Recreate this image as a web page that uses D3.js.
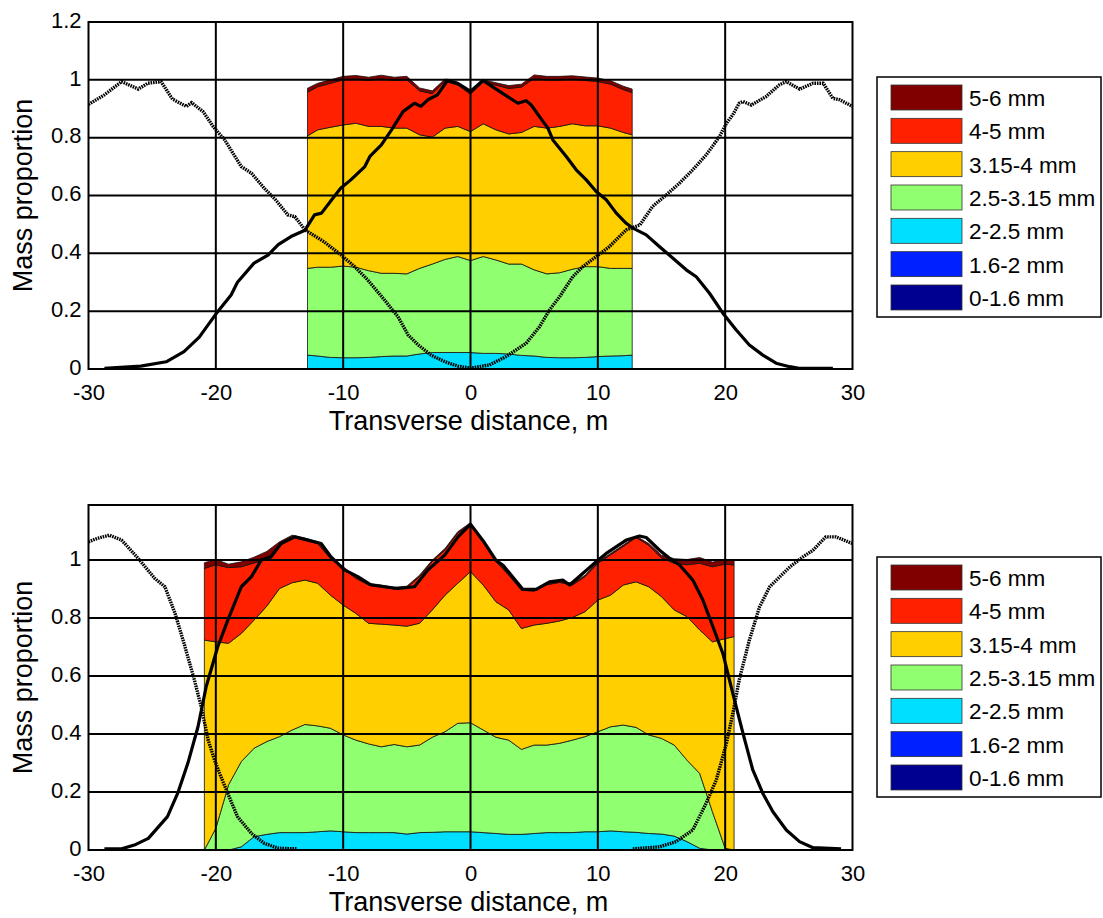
<!DOCTYPE html>
<html>

<head>
    <meta charset="utf-8">
    <title>Mass proportion by size class</title>
    <script src="https://d3js.org/d3.v7.min.js"></script>
    <style>
        body { margin: 0; background: #fff; }
        svg text { font-family: "Liberation Sans", Arial, sans-serif; fill: #000; }
    </style>
</head>

<body>
    <div id="chart"></div>
    <script>
        // size classes, bottom of the stack first
        var classes = ["0-1.6 mm", "1.6-2 mm", "2-2.5 mm", "2.5-3.15 mm", "3.15-4 mm", "4-5 mm", "5-6 mm"];
        var classColors = ["#000090", "#0020ff", "#00dfff", "#90ff70", "#ffcf00", "#ff2000", "#800000"];

        var xTicks = [-30, -20, -10, 0, 10, 20, 30];
        var yTicksTop = [0, 0.2, 0.4, 0.6, 0.8, 1, 1.2];
        var yTicksBottom = [0, 0.2, 0.4, 0.6, 0.8, 1];

        // ---- top panel ----
        var topX = [-12.8, -12, -11, -10, -9, -8, -7, -6, -5, -4, -3, -2, -1, 0, 1, 2, 3, 4, 5, 6, 7, 8, 9, 10, 11, 12, 12.7];
        var top_0_16 = [0, 0, 0, 0, 0, 0, 0, 0, 0, 0, 0, 0, 0, 0, 0, 0, 0, 0, 0, 0, 0, 0, 0, 0, 0, 0, 0];
        var top_16_2 = [0, 0, 0, 0, 0, 0, 0, 0, 0, 0, 0, 0, 0, 0, 0, 0, 0, 0, 0, 0, 0, 0, 0, 0, 0, 0, 0];
        var top_2_25 = [0.048, 0.045, 0.04, 0.039, 0.039, 0.04, 0.043, 0.045, 0.045, 0.052, 0.057, 0.057, 0.057, 0.057, 0.054, 0.054, 0.052, 0.047, 0.045, 0.04, 0.039, 0.039, 0.04, 0.043, 0.045, 0.046, 0.048];
        var top_25_315 = [0.300, 0.307, 0.312, 0.317, 0.313, 0.300, 0.288, 0.286, 0.284, 0.296, 0.306, 0.322, 0.332, 0.318, 0.335, 0.323, 0.311, 0.316, 0.298, 0.289, 0.294, 0.306, 0.314, 0.311, 0.303, 0.302, 0.300];
        var top_315_4 = [0.458, 0.475, 0.484, 0.488, 0.498, 0.499, 0.508, 0.502, 0.504, 0.462, 0.439, 0.454, 0.45, 0.446, 0.459, 0.45, 0.45, 0.455, 0.496, 0.504, 0.506, 0.503, 0.487, 0.487, 0.485, 0.47, 0.462];
        var top_4_5 = [0.151, 0.149, 0.152, 0.156, 0.153, 0.159, 0.165, 0.165, 0.167, 0.152, 0.15, 0.162, 0.143, 0.129, 0.144, 0.155, 0.157, 0.157, 0.166, 0.167, 0.161, 0.154, 0.157, 0.153, 0.152, 0.148, 0.146];
        var top_5_6 = [0.014, 0.012, 0.012, 0.012, 0.012, 0.011, 0.012, 0.011, 0.012, 0.01, 0.01, 0.008, 0.008, 0.01, 0.008, 0.008, 0.01, 0.01, 0.012, 0.012, 0.012, 0.012, 0.012, 0.012, 0.012, 0.012, 0.012];

        var topSolidX = [-28.75, -25.9, -23.9, -22.5, -21.3, -20.0, -18.8, -18.3, -17.0, -15.9, -15.1, -14.1, -13.0, -12.25, -11.7, -10.9, -10.2, -9.4, -8.3, -7.9, -7.0, -6.2, -5.3, -4.4, -3.9, -3.35, -2.6, -1.8, -1.0, 0, 0.97, 2.28, 3.72, 4.37, 4.77, 5.42, 6.08, 6.47, 7.52, 8.3, 9.09, 9.87, 10.66, 11.45, 12.23, 12.75, 13.8, 14.85, 15.9, 16.94, 17.73, 18.77, 19.82, 20.87, 21.9, 22.96, 24.0, 25.06, 25.8, 28.46];
        var topSolidY = [0.002, 0.01, 0.025, 0.06, 0.11, 0.19, 0.256, 0.30, 0.366, 0.394, 0.43, 0.458, 0.48, 0.533, 0.539, 0.585, 0.625, 0.654, 0.70, 0.735, 0.775, 0.827, 0.89, 0.919, 0.908, 0.931, 0.948, 0.998, 0.988, 0.96, 0.998, 0.96, 0.919, 0.928, 0.913, 0.873, 0.833, 0.792, 0.735, 0.689, 0.654, 0.614, 0.585, 0.539, 0.504, 0.487, 0.464, 0.423, 0.383, 0.343, 0.319, 0.262, 0.193, 0.135, 0.083, 0.048, 0.02, 0.008, 0.002, 0.002];
        var topDotX = [-30, -28.75, -27.4, -26.1, -25.35, -24.3, -23.4, -22.3, -21.9, -21.0, -20.2, -19.3, -18.0, -17.2, -16.2, -15.3, -14.35, -13.8, -13.0, -11.5, -10.16, -9.1, -8.07, -6.76, -5.7, -4.9, -4.1, -3.1, -2.0, -1.0, 0, 1.49, 2.8, 4.37, 5.42, 6.2, 7.0, 8.04, 8.82, 9.87, 10.9, 12.23, 13.3, 14.3, 15.37, 16.4, 17.46, 18.5, 19.56, 20.1, 20.6, 21.1, 21.4, 22.05, 23.2, 24.27, 24.8, 25.85, 26.9, 27.7, 28.46, 29.0, 30];
        var topDotY = [0.915, 0.948, 0.994, 0.968, 0.988, 0.994, 0.933, 0.908, 0.921, 0.89, 0.838, 0.792, 0.70, 0.677, 0.625, 0.585, 0.533, 0.527, 0.481, 0.44, 0.394, 0.354, 0.308, 0.239, 0.181, 0.118, 0.083, 0.048, 0.025, 0.01, 0.003, 0.014, 0.043, 0.089, 0.146, 0.204, 0.25, 0.32, 0.354, 0.389, 0.423, 0.481, 0.498, 0.562, 0.602, 0.642, 0.689, 0.74, 0.804, 0.85, 0.879, 0.919, 0.925, 0.913, 0.942, 0.983, 0.994, 0.968, 0.988, 0.988, 0.936, 0.931, 0.908];

        // ---- bottom panel ----
        var botX = [-20.9, -20, -19, -18, -17, -16, -15, -14, -13, -12, -11, -10, -9, -8, -7, -6, -5, -4, -3, -2, -1, 0, 1, 2, 3, 4, 5, 6, 7, 8, 9, 10, 11, 12, 13, 14, 15, 16, 17, 18, 19, 20, 20.7];
        var bot_0_16 = [0, 0, 0, 0, 0, 0, 0, 0, 0, 0, 0, 0, 0, 0, 0, 0, 0, 0, 0, 0, 0, 0, 0, 0, 0, 0, 0, 0, 0, 0, 0, 0, 0, 0, 0, 0, 0, 0, 0, 0, 0, 0, 0];
        var bot_16_2 = [0, 0, 0, 0, 0, 0, 0, 0, 0, 0, 0, 0, 0, 0, 0, 0, 0, 0, 0, 0, 0, 0, 0, 0, 0, 0, 0, 0, 0, 0, 0, 0, 0, 0, 0, 0, 0, 0, 0, 0, 0, 0, 0];
        var bot_2_25 = [0, 0, 0, 0.011, 0.046, 0.054, 0.06, 0.06, 0.06, 0.063, 0.066, 0.063, 0.06, 0.06, 0.06, 0.06, 0.055, 0.06, 0.061, 0.063, 0.063, 0.063, 0.06, 0.057, 0.054, 0.054, 0.057, 0.06, 0.06, 0.06, 0.063, 0.063, 0.066, 0.063, 0.061, 0.057, 0.055, 0.048, 0.029, 0.006, 0, 0, 0];
        var bot_25_315 = [0, 0.075, 0.225, 0.294, 0.305, 0.32, 0.331, 0.354, 0.373, 0.365, 0.354, 0.334, 0.319, 0.306, 0.296, 0.304, 0.301, 0.302, 0.328, 0.345, 0.374, 0.376, 0.354, 0.332, 0.325, 0.293, 0.305, 0.302, 0.308, 0.319, 0.328, 0.345, 0.359, 0.368, 0.362, 0.34, 0.33, 0.314, 0.281, 0.258, 0.132, 0.006, 0];
        var bot_315_4 = [0.724, 0.643, 0.488, 0.442, 0.442, 0.467, 0.511, 0.508, 0.498, 0.492, 0.459, 0.448, 0.437, 0.416, 0.423, 0.412, 0.416, 0.42, 0.439, 0.471, 0.483, 0.521, 0.5, 0.467, 0.449, 0.417, 0.414, 0.42, 0.422, 0.423, 0.431, 0.454, 0.454, 0.483, 0.502, 0.511, 0.489, 0.466, 0.495, 0.495, 0.586, 0.723, 0.736];
        var bot_4_5 = [0.247, 0.266, 0.261, 0.23, 0.197, 0.161, 0.153, 0.158, 0.139, 0.137, 0.126, 0.126, 0.121, 0.132, 0.129, 0.124, 0.132, 0.161, 0.167, 0.156, 0.173, 0.164, 0.147, 0.139, 0.12, 0.132, 0.117, 0.133, 0.133, 0.112, 0.121, 0.127, 0.139, 0.133, 0.153, 0.143, 0.133, 0.161, 0.179, 0.23, 0.259, 0.257, 0.247];
        var bot_5_6 = [0.02, 0.018, 0.012, 0.017, 0.02, 0.028, 0.008, 0.006, 0.006, 0.006, 0.006, 0.006, 0.006, 0.006, 0.006, 0.006, 0.006, 0.005, 0.005, 0.005, 0.005, 0.005, 0.005, 0.005, 0.006, 0.006, 0.006, 0.006, 0.006, 0.006, 0.005, 0.005, 0.005, 0.005, 0.005, 0.006, 0.01, 0.016, 0.018, 0.02, 0.016, 0.016, 0.017];

        var botSolidX = [-28.75, -27.4, -26.4, -25.3, -23.8, -23.0, -22.2, -21.4, -20.76, -19.85, -19.06, -18.0, -17.2, -16.44, -15.66, -14.87, -13.8, -12.78, -11.73, -10.95, -9.9, -8.85, -7.8, -6.76, -5.7, -4.4, -3.35, -2.03, -0.98, 0, 1.0, 2.02, 2.54, 4.11, 5.16, 6.2, 7.25, 7.78, 9.87, 10.66, 12.23, 13.28, 13.8, 14.85, 15.63, 16.42, 17.46, 18.25, 19.04, 19.82, 20.6, 21.4, 22.17, 22.96, 23.75, 24.8, 25.84, 26.9, 29.1];
        var botSolidY = [0.004, 0.004, 0.017, 0.04, 0.115, 0.195, 0.299, 0.425, 0.563, 0.701, 0.793, 0.908, 0.943, 1.0, 1.011, 1.057, 1.08, 1.069, 1.057, 1.011, 0.966, 0.943, 0.914, 0.908, 0.902, 0.908, 0.966, 1.017, 1.08, 1.124, 1.066, 0.998, 0.983, 0.899, 0.899, 0.925, 0.931, 0.914, 0.994, 1.023, 1.069, 1.083, 1.078, 1.034, 1.006, 0.983, 0.931, 0.862, 0.77, 0.678, 0.54, 0.402, 0.276, 0.195, 0.132, 0.069, 0.029, 0.008, 0.004];
        // null marks the gap where the dotted curve is absent
        var botDotX = [-30, -29.3, -28.36, -27.4, -26.1, -24.8, -24.0, -23.2, -22.5, -21.68, -21.15, -20.6, -20.1, -19.6, -19.06, -18.3, -17.2, -16.2, -15.1, -13.6, 0, 12.75, 14.85, 16.15, 17.46, 18.5, 19.3, 20.1, 20.6, 21.1, 21.9, 22.7, 23.5, 24.3, 25.1, 26.1, 26.9, 27.9, 28.7, 30];
        var botDotY = [1.063, 1.075, 1.086, 1.069, 1.006, 0.937, 0.908, 0.816, 0.713, 0.586, 0.494, 0.379, 0.31, 0.253, 0.195, 0.115, 0.057, 0.023, 0.006, 0.004, null, 0.004, 0.011, 0.029, 0.069, 0.161, 0.241, 0.368, 0.471, 0.586, 0.724, 0.839, 0.908, 0.943, 0.977, 1.011, 1.034, 1.08, 1.08, 1.057];

        // set the dimensions of the figure
        var W = 1103, H = 918;
        var left = 88.5, right = 852.5;

        var svg = d3.select("#chart")
            .append("svg")
            .attr("width", W)
            .attr("height", H);

        var x = d3.scaleLinear()
            .domain([-30, 30])
            .range([left, right]);

        function drawPanel(p) {
            var y = d3.scaleLinear()
                .domain(p.yDomain)
                .range([p.bottom, p.top]);

            var g = svg.append("g");

            svg.append("clipPath").attr("id", "clip" + p.id)
                .append("rect")
                .attr("x", left).attr("y", p.top)
                .attr("width", right - left).attr("height", p.bottom - p.top);

            // stacked areas
            var rows = p.xs.map(function (xv, i) {
                var r = { x: xv };
                p.layers.forEach(function (l, j) { r[classes[j]] = l[i]; });
                return r;
            });
            var series = d3.stack().keys(classes)(rows);
            var area = d3.area()
                .x(function (d) { return x(d.data.x); })
                .y0(function (d) { return y(d[0]); })
                .y1(function (d) { return y(d[1]); });
            g.append("g")
                .selectAll("path")
                .data(series)
                .enter()
                .append("path")
                .attr("d", area)
                .attr("fill", function (d, i) { return classColors[i]; })
                .attr("stroke", "#111")
                .attr("stroke-width", 0.8)
                .attr("stroke-linejoin", "round");

            // grid
            var grid = g.append("g").attr("stroke", "#000").attr("stroke-width", 2);
            xTicks.slice(1, -1).forEach(function (t) {
                grid.append("line").attr("x1", x(t)).attr("x2", x(t)).attr("y1", p.top).attr("y2", p.bottom);
            });
            p.yTicks.slice(1).forEach(function (t) {
                if (y(t) <= p.top + 1) return;
                grid.append("line").attr("x1", left).attr("x2", right).attr("y1", y(t)).attr("y2", y(t));
            });

            // curves
            var line = d3.line()
                .defined(function (d) { return d[1] !== null; })
                .x(function (d) { return x(d[0]); })
                .y(function (d) { return y(d[1]); });
            var curves = g.append("g").attr("clip-path", "url(#clip" + p.id + ")");
            curves.append("path")
                .datum(d3.zip(p.dotX, p.dotY))
                .attr("d", line)
                .attr("fill", "none")
                .attr("stroke", "#000")
                .attr("stroke-width", 3.4)
                .attr("stroke-dasharray", "1.6,0.9");
            curves.append("path")
                .datum(d3.zip(p.solidX, p.solidY))
                .attr("d", line)
                .attr("fill", "none")
                .attr("stroke", "#000")
                .attr("stroke-width", 3.2)
                .attr("stroke-linejoin", "round");

            // axes
            var xAxis = g.append("g")
                .attr("transform", "translate(0," + p.bottom + ")")
                .call(d3.axisBottom(x).tickValues(xTicks).tickSize(0).tickPadding(15)
                    .tickFormat(function (d) { return String(d); }));
            var yAxis = g.append("g")
                .attr("transform", "translate(" + left + ",0)")
                .call(d3.axisLeft(y).tickValues(p.yTicks).tickSize(0).tickPadding(7)
                    .tickFormat(function (d) { return String(d); }));
            [xAxis, yAxis].forEach(function (a) {
                a.select(".domain").remove();
                a.selectAll("text").style("font-size", "22px").attr("fill", "#000");
                a.attr("font-family", null);
            });
            yAxis.selectAll("text").attr("dy", "0.24em");

            // box
            g.append("rect")
                .attr("x", left).attr("y", p.top)
                .attr("width", right - left).attr("height", p.bottom - p.top)
                .attr("fill", "none").attr("stroke", "#000").attr("stroke-width", 2);

            // axis labels
            g.append("text")
                .attr("text-anchor", "middle")
                .attr("x", (left + right) / 2 - 2)
                .attr("y", p.bottom + 61)
                .style("font-size", "27px")
                .text("Transverse distance, m");
            g.append("text")
                .attr("text-anchor", "middle")
                .attr("transform", "translate(32," + (p.top + p.bottom) / 2 + ") rotate(-90)")
                .style("font-size", "27px")
                .text("Mass proportion");

            // handmade legend
            var lg = g.append("g").attr("transform", "translate(877," + p.legendY + ")");
            lg.append("rect")
                .attr("width", 224).attr("height", 240)
                .attr("fill", "#fff").attr("stroke", "#000").attr("stroke-width", 1.5);
            var order = classes.slice().reverse();
            var colorsRev = classColors.slice().reverse();
            order.forEach(function (name, i) {
                var yy = 8 + i * 33.33;
                lg.append("rect")
                    .attr("x", 14).attr("y", yy)
                    .attr("width", 71).attr("height", 25)
                    .attr("fill", colorsRev[i]).attr("stroke", "#333").attr("stroke-width", 0.8);
                lg.append("text")
                    .attr("x", 92).attr("y", yy + 21)
                    .style("font-size", "22.5px")
                    .text(name);
            });
        }

        drawPanel({
            id: "top", top: 22, bottom: 369, yDomain: [0, 1.2], yTicks: yTicksTop, legendY: 77,
            xs: topX, layers: [top_0_16, top_16_2, top_2_25, top_25_315, top_315_4, top_4_5, top_5_6],
            solidX: topSolidX, solidY: topSolidY, dotX: topDotX, dotY: topDotY
        });
        drawPanel({
            id: "bot", top: 505, bottom: 850, yDomain: [0, 1.19], yTicks: yTicksBottom, legendY: 557,
            xs: botX, layers: [bot_0_16, bot_16_2, bot_2_25, bot_25_315, bot_315_4, bot_4_5, bot_5_6],
            solidX: botSolidX, solidY: botSolidY, dotX: botDotX, dotY: botDotY
        });
    </script>
</body>

</html>
